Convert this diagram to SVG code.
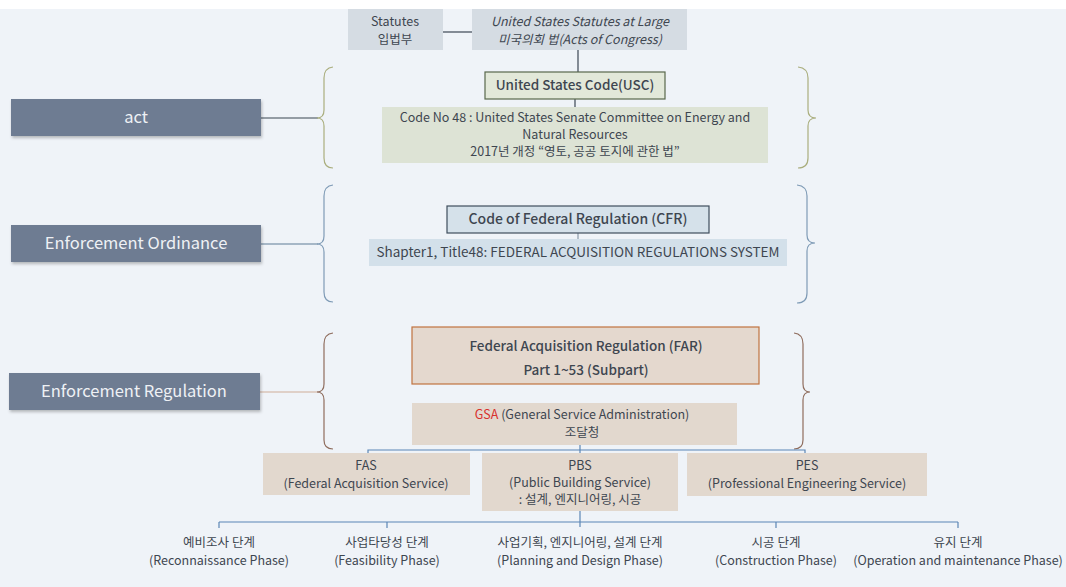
<svg xmlns="http://www.w3.org/2000/svg" width="1066" height="587" viewBox="0 0 1066 587">
<defs>
<style>
text{font-family:"Noto Sans CJK KR","Noto Sans",sans-serif;fill:#3e4650;text-anchor:middle;}
.t{font-size:12.5px;}
.s{font-size:12.5px;}
.lbl{font-size:16.5px;fill:#eef1f5;}
.side{fill:#6e7c92;filter:url(#sh);}
.line{fill:none;stroke-width:1.2;}
.blue{stroke:#5b86b5;}
.dark{stroke:#3b4754;}
</style>
<filter id="sh" x="-10%" y="-30%" width="120%" height="170%">
<feDropShadow dx="1" dy="2" stdDeviation="1.5" flood-color="#000" flood-opacity="0.25"/>
</filter>
</defs>
<rect x="0" y="0" width="1066" height="587" fill="#ffffff"/>
<rect x="0" y="9" width="1066" height="578" fill="#eff3f8"/>

<g id="connectors">
<line class="line dark" x1="443" y1="32" x2="472" y2="32"/>
<line class="line dark" x1="578" y1="50" x2="578" y2="72"/>
<line class="line dark" x1="575" y1="99" x2="575" y2="107"/>
<line class="line" stroke="#8a9aaa" x1="578" y1="233" x2="578" y2="239"/>
<line class="line" stroke="#3a4650" x1="261" y1="118" x2="318" y2="118"/>
<line class="line" stroke="#5f7d95" x1="261" y1="244" x2="318" y2="244"/>
<line class="line" stroke="#cfae98" x1="260" y1="392" x2="318" y2="392"/>
<path class="line" stroke="#aaae7e" d="M333,67 Q324,68 324,78 L324,110 Q324,118 317,118 Q324,118 324,126 L324,158 Q324,168 333,168"/>
<path class="line" stroke="#aaae7e" d="M798,67 Q808,68 808,78 L808,110 Q808,118 816,118 Q808,118 808,126 L808,158 Q808,168 798,168"/>
<path class="line" stroke="#7f9bb6" d="M333,185 Q324,186 324,196 L324,236 Q324,244 317,244 Q324,244 324,252 L324,292 Q324,302 333,302"/>
<path class="line" stroke="#7f9bb6" d="M797,185 Q807,186 807,196 L807,235 Q807,243 815,243 Q807,243 807,251 L807,293 Q807,303 797,303"/>
<path class="line" stroke="#8f6d5e" d="M333,333 Q324,334 324,344 L324,384 Q324,392 317,392 Q324,392 324,400 L324,440 Q324,449 333,449"/>
<path class="line" stroke="#8f6d5e" d="M794,333 Q803,334 803,344 L803,384 Q803,392 810,392 Q803,392 803,400 L803,440 Q803,449 794,449"/>
<polyline class="line blue" points="368,455 368,450 805,450 805,455"/>
<line class="line blue" x1="580" y1="445" x2="580" y2="453"/>
<line class="line blue" x1="580" y1="511" x2="580" y2="527"/>
<line class="line blue" x1="219" y1="522" x2="958" y2="522"/>
<line class="line blue" x1="219" y1="522" x2="219" y2="528"/>
<line class="line blue" x1="387" y1="522" x2="387" y2="528"/>
<line class="line blue" x1="776" y1="522" x2="776" y2="528"/>
<line class="line blue" x1="958" y1="522" x2="958" y2="528"/>
</g>

<g id="statutes">
<rect x="348" y="9" width="95" height="41" fill="#d5dce3"/>
<text class="t" x="395" y="26">Statutes</text>
<text class="t" x="395" y="44">입법부</text>
</g>
<g id="statutes-at-large">
<rect x="472" y="9" width="215" height="41" fill="#d5dce3"/>
<text class="t" x="580" y="26" font-style="italic">United States Statutes at Large</text>
<text class="t" x="580" y="44" font-style="italic">미국의회 법(Acts of Congress)</text>
</g>

<g id="act">
<rect class="side" x="11" y="99" width="250" height="37"/>
<text class="lbl" x="136" y="123">act</text>
</g>
<g id="ordinance">
<rect class="side" x="11" y="225" width="250" height="37"/>
<text class="lbl" x="136" y="249">Enforcement Ordinance</text>
</g>
<g id="regulation">
<rect class="side" x="9" y="373" width="251" height="37"/>
<text class="lbl" x="134" y="397">Enforcement Regulation</text>
</g>

<g id="usc">
<rect x="485" y="72" width="180" height="27" fill="#e2e8d9" stroke="#59684c" stroke-width="1.2"/>
<text x="575" y="90" font-size="13.5" font-weight="500">United States Code(USC)</text>
</g>
<g id="code48">
<rect x="382" y="107" width="386" height="56" fill="#dde3d5"/>
<text class="s" x="575" y="122">Code No 48 : United States Senate Committee  on Energy and</text>
<text class="s" x="575" y="139">Natural Resources</text>
<text class="s" x="575" y="156">2017년 개정  “영토, 공공 토지에 관한 법”</text>
</g>

<g id="cfr">
<rect x="447" y="206" width="262" height="27" fill="#d5e1ea" stroke="#3f4e5d" stroke-width="1.2"/>
<text x="578" y="224" font-size="14" font-weight="500">Code of Federal Regulation  (CFR)</text>
</g>
<g id="chapter">
<rect x="369" y="239" width="418" height="27" fill="#d3e0ea"/>
<text x="578" y="257" font-size="13.5">Shapter1, Title48: FEDERAL ACQUISITION REGULATIONS SYSTEM</text>
</g>

<g id="far">
<rect x="412" y="327" width="347" height="57" fill="#e4d8ce" stroke="#c07340" stroke-width="1.2"/>
<text x="586" y="351" font-size="13.5" font-weight="500">Federal Acquisition Regulation (FAR)</text>
<text x="586" y="375" font-size="13.5" font-weight="500">Part 1~53 (Subpart)</text>
</g>
<g id="gsa">
<rect x="412" y="403" width="325" height="42" fill="#e2d8ce"/>
<text class="t" x="582" y="419"><tspan fill="#d8322f">GSA</tspan> (General Service Administration)</text>
<text class="t" x="582" y="437">조달청</text>
</g>

<g id="fas">
<rect x="263" y="453" width="207" height="42" fill="#e2d8ce"/>
<text class="t" x="366" y="470">FAS</text>
<text class="t" x="366" y="488">(Federal Acquisition  Service)</text>
</g>
<g id="pbs">
<rect x="482" y="453" width="196" height="58" fill="#e2d8ce"/>
<text class="t" x="580" y="470">PBS</text>
<text class="t" x="580" y="487">(Public Building  Service)</text>
<text class="t" x="580" y="504">: 설계, 엔지니어링, 시공</text>
</g>
<g id="pes">
<rect x="687" y="453" width="240" height="43" fill="#e2d8ce"/>
<text class="t" x="807" y="470">PES</text>
<text class="t" x="807" y="488">(Professional  Engineering  Service)</text>
</g>

<g id="phase1">
<text class="t" x="219" y="547">예비조사 단계</text>
<text class="t" x="219" y="565">(Reconnaissance  Phase)</text>
</g>
<g id="phase2">
<text class="t" x="387" y="547">사업타당성 단계</text>
<text class="t" x="387" y="565">(Feasibility Phase)</text>
</g>
<g id="phase3">
<text class="t" x="580" y="547">사업기획, 엔지니어링, 설계 단계</text>
<text class="t" x="580" y="565">(Planning and Design Phase)</text>
</g>
<g id="phase4">
<text class="t" x="776" y="547">시공 단계</text>
<text class="t" x="776" y="565">(Construction  Phase)</text>
</g>
<g id="phase5">
<text class="t" x="958" y="547">유지 단계</text>
<text class="t" x="958" y="565">(Operation and maintenance  Phase)</text>
</g>
</svg>
